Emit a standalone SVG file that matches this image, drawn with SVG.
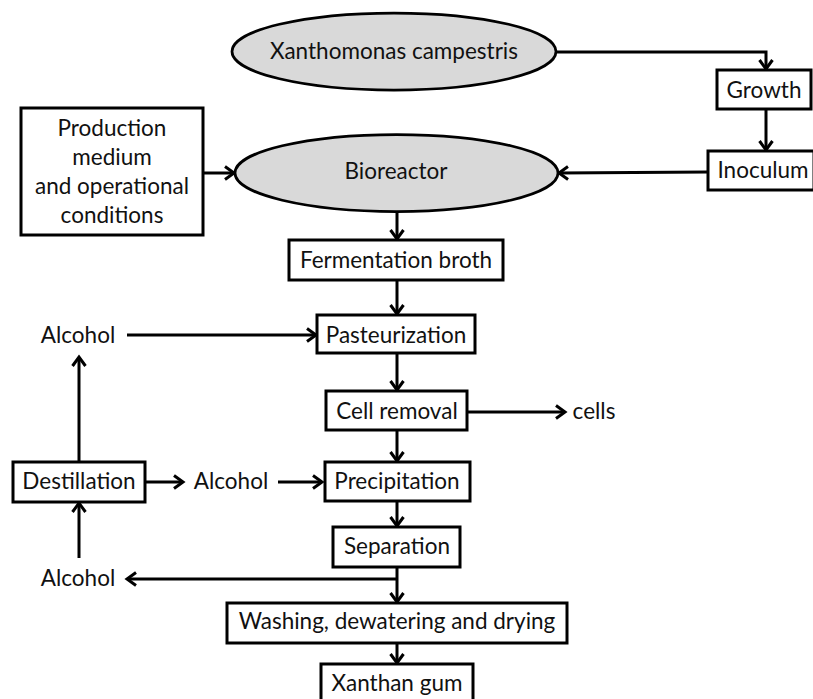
<svg xmlns="http://www.w3.org/2000/svg" width="813" height="699" viewBox="0 0 813 699">
<defs>
<style>
.box{fill:#ffffff;stroke:#000;stroke-width:3}
.ell{fill:#d9d9d9;stroke:#000;stroke-width:2.75}
.t{font-family:Lato,"Open Sans","Liberation Sans",sans-serif;font-size:22.5px;fill:#111;text-anchor:middle}
.c{fill:none;stroke:#000;stroke-width:3}
</style>
<marker id="ah" viewBox="-12 -9 14 18" refX="0" refY="0" markerWidth="14" markerHeight="18" markerUnits="userSpaceOnUse" orient="auto" overflow="visible">
<path d="M-9,-6.5 L0,0 L-9,6.5" fill="none" stroke="#000" stroke-width="3"/>
</marker>
</defs>
<rect width="813" height="699" fill="#fff"/>
<g id="connectors">
<path class="c" d="M556,52 H766 V69" marker-end="url(#ah)"/>
<path class="c" d="M766,109 V150" marker-end="url(#ah)"/>
<path class="c" d="M708,172 L559,173" marker-end="url(#ah)"/>
<path class="c" d="M203,173 H234" marker-end="url(#ah)"/>
<path class="c" d="M397,212 V239" marker-end="url(#ah)"/>
<path class="c" d="M397,280 V314" marker-end="url(#ah)"/>
<path class="c" d="M127,335 H316" marker-end="url(#ah)"/>
<path class="c" d="M397,353 V390" marker-end="url(#ah)"/>
<path class="c" d="M467,412 H565" marker-end="url(#ah)"/>
<path class="c" d="M397,430 V461" marker-end="url(#ah)"/>
<path class="c" d="M145,482 H183" marker-end="url(#ah)"/>
<path class="c" d="M278,482 H322" marker-end="url(#ah)"/>
<path class="c" d="M79,462 V357" marker-end="url(#ah)"/>
<path class="c" d="M397,501 V526" marker-end="url(#ah)"/>
<path class="c" d="M397,567 V602" marker-end="url(#ah)"/>
<path class="c" d="M397,579 H127" marker-end="url(#ah)"/>
<path class="c" d="M79,558 V503" marker-end="url(#ah)"/>
<path class="c" d="M397,643 V663" marker-end="url(#ah)"/>
</g>
<g id="xanthomonas">
<ellipse class="ell" cx="394" cy="51.5" rx="162" ry="38.5"/>
<text class="t" x="394" y="59">Xanthomonas campestris</text>
</g>
<g id="growth">
<rect class="box" x="717" y="70" width="94" height="39"/>
<text class="t" x="764" y="98">Growth</text>
</g>
<g id="inoculum">
<rect class="box" x="708" y="151" width="106" height="39"/>
<text class="t" x="763" y="178">Inoculum</text>
</g>
<g id="production">
<rect class="box" x="21" y="108" width="182" height="127"/>
<text class="t" x="112" y="136">Production</text>
<text class="t" x="112" y="165">medium</text>
<text class="t" x="112" y="194">and operational</text>
<text class="t" x="112" y="223">conditions</text>
</g>
<g id="bioreactor">
<ellipse class="ell" cx="396.5" cy="173" rx="161.5" ry="38.5"/>
<text class="t" x="396" y="179">Bioreactor</text>
</g>
<g id="fermentation">
<rect class="box" x="289" y="240" width="214" height="40"/>
<text class="t" x="396" y="268">Fermentation broth</text>
</g>
<g id="alcohol1">
<text class="t" x="78" y="343">Alcohol</text>
</g>
<g id="pasteurization">
<rect class="box" x="317" y="315" width="158" height="38"/>
<text class="t" x="396" y="343">Pasteurization</text>
</g>
<g id="cellremoval">
<rect class="box" x="326" y="391" width="141" height="39"/>
<text class="t" x="397" y="419">Cell removal</text>
</g>
<g id="cells">
<text class="t" x="594" y="419">cells</text>
</g>
<g id="destillation">
<rect class="box" x="13" y="462" width="132" height="40"/>
<text class="t" x="79" y="489">Destillation</text>
</g>
<g id="alcohol2">
<text class="t" x="231" y="489">Alcohol</text>
</g>
<g id="precipitation">
<rect class="box" x="325" y="462" width="145" height="39"/>
<text class="t" x="397" y="489">Precipitation</text>
</g>
<g id="separation">
<rect class="box" x="333" y="527" width="127" height="40"/>
<text class="t" x="397" y="554">Separation</text>
</g>
<g id="alcohol3">
<text class="t" x="78" y="586">Alcohol</text>
</g>
<g id="washing">
<rect class="box" x="227" y="603" width="340" height="40"/>
<text class="t" x="397" y="629">Washing, dewatering and drying</text>
</g>
<g id="xanthan">
<rect class="box" x="321" y="664" width="152" height="40"/>
<text class="t" x="397" y="691">Xanthan gum</text>
</g>
</svg>
